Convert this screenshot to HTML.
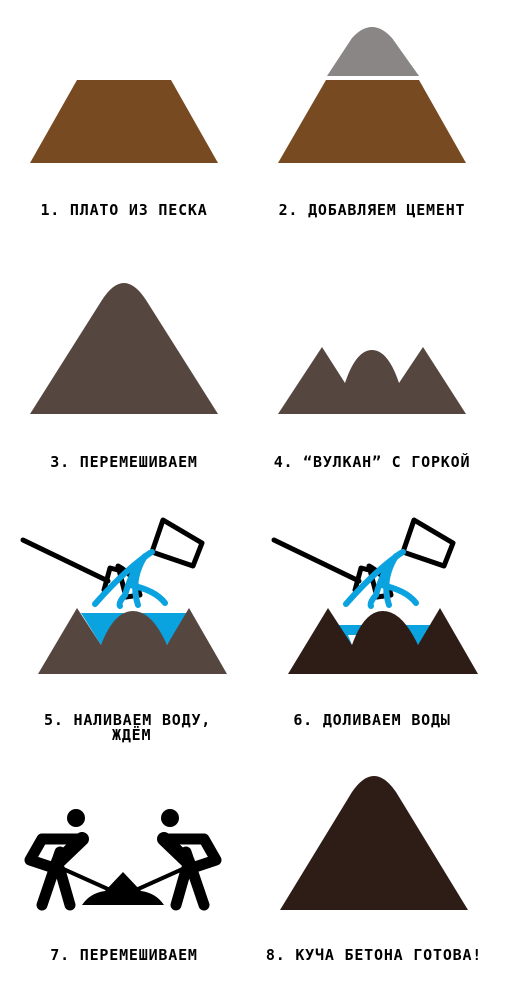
<!DOCTYPE html>
<html><head><meta charset="utf-8"><style>
html,body{margin:0;padding:0;background:#fff;width:509px;height:992px;overflow:hidden}
text{font-family:"DejaVu Sans Mono","Liberation Mono",monospace;font-weight:bold;font-size:15px;letter-spacing:0.8px;fill:#000}
</style></head><body>
<svg width="509" height="992" viewBox="0 0 509 992">
<!-- 1 -->
<polygon points="30,163 218,163 171,80 77,80" fill="#774a22"/>
<text x="124" y="215" text-anchor="middle">1. ПЛАТО ИЗ ПЕСКА</text>
<!-- 2 -->
<polygon points="278,163 466,163 419,80 326,80" fill="#774a22"/>
<path d="M327,76 L352,38 Q372,16 392,38 L419,76 Z" fill="#898685"/>
<text x="372" y="215" text-anchor="middle">2. ДОБАВЛЯЕМ ЦЕМЕНТ</text>
<!-- 3 -->
<path d="M30,414 L102,300 Q124,266 146,300 L218,414 Z" fill="#554740"/>
<text x="124" y="467" text-anchor="middle">3. ПЕРЕМЕШИВАЕМ</text>
<!-- 4 -->
<path d="M278,414 L322,347 L345,383 Q356,350 372,350 Q388,350 399,383 L423,347 L466,414 Z" fill="#554740"/>
<text x="372" y="467" text-anchor="middle">4. “ВУЛКАН” С ГОРКОЙ</text>
<!-- 5 -->
<path d="M81,613 L188,613 L167,645 L156,628 L112,628 L101,645 Z" fill="#0aa3e0"/>
<path d="M38,674 L77,608 L101,645 Q114,611 133,611 Q152,611 167,645 L189,608 L227,674 Z" fill="#554740"/>
<g fill="none" stroke="#000" stroke-width="5" stroke-linecap="round" stroke-linejoin="round">
<line x1="23" y1="540" x2="108" y2="581"/>
<path d="M104,590 L110,568 L122,571 M118,566 Q135,575 140,595 L126,597 Z"/>
<polygon points="163,520 202,543 193,566 152,552"/>
</g>
<g fill="none" stroke="#0aa3e0" stroke-width="6" stroke-linecap="round">
<path d="M152,552 Q135,560 125,595 Q118,603 120,606"/>
<path d="M150,553 Q125,570 95,604"/>
<path d="M145,556 Q130,580 138,605"/>
<path d="M130,585 Q155,590 165,603"/>
</g>
<text x="44" y="725">5. НАЛИВАЕМ ВОДУ,</text>
<text x="112" y="740">ЖДЁМ</text>
<!-- 6 -->
<path d="M335,625 L433,625 L418,645 L402,635 L348,635 L352,645 Z" fill="#0aa3e0"/>
<path d="M288,674 L328,608 L352,645 Q364,611 383,611 Q402,611 418,645 L440,608 L478,674 Z" fill="#2e1d16"/>
<g fill="none" stroke="#000" stroke-width="5" stroke-linecap="round" stroke-linejoin="round">
<line x1="274" y1="540" x2="359" y2="581"/>
<path d="M355,590 L361,568 L373,571 M369,566 Q386,575 391,595 L377,597 Z"/>
<polygon points="414,520 453,543 444,566 403,552"/>
</g>
<g fill="none" stroke="#0aa3e0" stroke-width="6" stroke-linecap="round">
<path d="M403,552 Q386,560 376,595 Q369,603 371,606"/>
<path d="M401,553 Q376,570 346,604"/>
<path d="M396,556 Q381,580 389,605"/>
<path d="M381,585 Q406,590 416,603"/>
</g>
<text x="372" y="725" text-anchor="middle">6. ДОЛИВАЕМ ВОДЫ</text>
<!-- 7 -->
<g fill="#000" stroke="#000" stroke-linecap="round" stroke-linejoin="round">
<circle cx="76" cy="818" r="9" stroke="none"/>
<circle cx="170" cy="818" r="9" stroke="none"/>
<path d="M82,839 L42,839 L30,860 L60,870 L70,905 M60,852 L42,905" fill="none" stroke-width="11"/>
<path d="M82,839 L58,862" fill="none" stroke-width="14"/>
<path d="M164,839 L204,839 L216,860 L186,870 L176,905 M186,852 L204,905" fill="none" stroke-width="11"/>
<path d="M164,839 L188,862" fill="none" stroke-width="14"/>
<line x1="50" y1="863" x2="110" y2="890" stroke-width="4"/>
<line x1="196" y1="863" x2="136" y2="890" stroke-width="4"/>
<path d="M82,905 Q90,893 105,891 L123,872 L141,891 Q156,893 164,905 Z" stroke="none"/>
</g>
<text x="124" y="960" text-anchor="middle">7. ПЕРЕМЕШИВАЕМ</text>
<!-- 8 -->
<path d="M280,910 L352,792 Q374,760 396,792 L468,910 Z" fill="#2e1d16"/>
<text x="374" y="960" text-anchor="middle">8. КУЧА БЕТОНА ГОТОВА!</text>
</svg>
</body></html>
